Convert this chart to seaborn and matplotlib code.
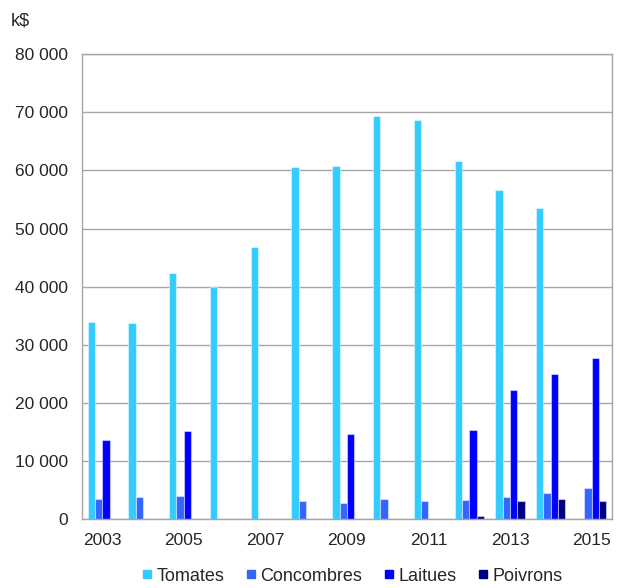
import pandas as pd
import seaborn as sns
import matplotlib.pyplot as plt
from matplotlib.ticker import FuncFormatter
from matplotlib.lines import Line2D

# valeurs en k$
annees = [2003, 2004, 2005, 2006, 2007, 2008, 2009, 2010, 2011, 2012, 2013, 2014, 2015]
tomates = [33900, 33700, 42300, 40000, 46800, 60500, 60700, 69400, 68700, 61600, 56600, 53600, 0]
concombres = [3450, 3900, 4050, 0, 0, 3050, 2750, 3500, 3200, 3300, 3900, 4500, 5400]
laitues = [13550, 0, 15100, 0, 0, 0, 14700, 0, 0, 15300, 22200, 24900, 27700]
poivrons = [60, 60, 60, 0, 100, 0, 0, 0, 0, 570, 3100, 3500, 3200]

series = ["Tomates", "Concombres", "Laitues", "Poivrons"]
couleurs = ["#33CCFF", "#3366FF", "#0000FF", "#000080"]

df = pd.DataFrame({"annee": annees, "Tomates": tomates, "Concombres": concombres,
                   "Laitues": laitues, "Poivrons": poivrons})
df = df.melt(id_vars="annee", var_name="produit", value_name="valeur")

sns.set_style("white")
plt.rcParams["font.family"] = ["Liberation Sans", "DejaVu Sans"]

fig, ax = plt.subplots(figsize=(6.2, 5.88), dpi=100)
fig.subplots_adjust(left=0.132, right=0.987, top=0.908, bottom=0.117)

sns.barplot(data=df, x="annee", y="valeur", hue="produit", hue_order=series,
            palette=couleurs, width=0.72, gap=0, saturation=1,
            edgecolor=(1, 1, 1, 0.45), linewidth=0.8, legend=False, ax=ax)

ax.set_ylim(0, 80000)
ax.set_yticks(range(0, 80001, 10000))
ax.yaxis.set_major_formatter(FuncFormatter(lambda v, p: f"{int(v):,}".replace(",", " ")))
ax.set_xticks(range(len(annees)))
ax.set_xticklabels([str(a) if i % 2 == 0 else "" for i, a in enumerate(annees)])
ax.set_xlim(-0.5, len(annees) - 0.5)
ax.tick_params(axis="y", labelsize=12.5, length=0, pad=10)
ax.tick_params(axis="x", labelsize=12.5, length=0, pad=10)
ax.set_xlabel("")
ax.set_ylabel("")
ax.grid(axis="y", color="#A6A6A6", linewidth=1)
ax.set_axisbelow(True)
for s in ax.spines.values():
    s.set_color("#A6A6A6")
    s.set_linewidth(1)

fig.text(0.018, 0.965, "k$", fontsize=13, va="center")

handles = [Line2D([], [], marker="s", linestyle="", color=c, markersize=6) for c in couleurs]
fig.legend(handles, series, loc="center", bbox_to_anchor=(0.567, 0.02), ncol=4,
           frameon=False, fontsize=13, handlelength=0.7, handletextpad=0.2,
           columnspacing=1.1, borderpad=0)

fig.savefig("out.png", dpi=100)
